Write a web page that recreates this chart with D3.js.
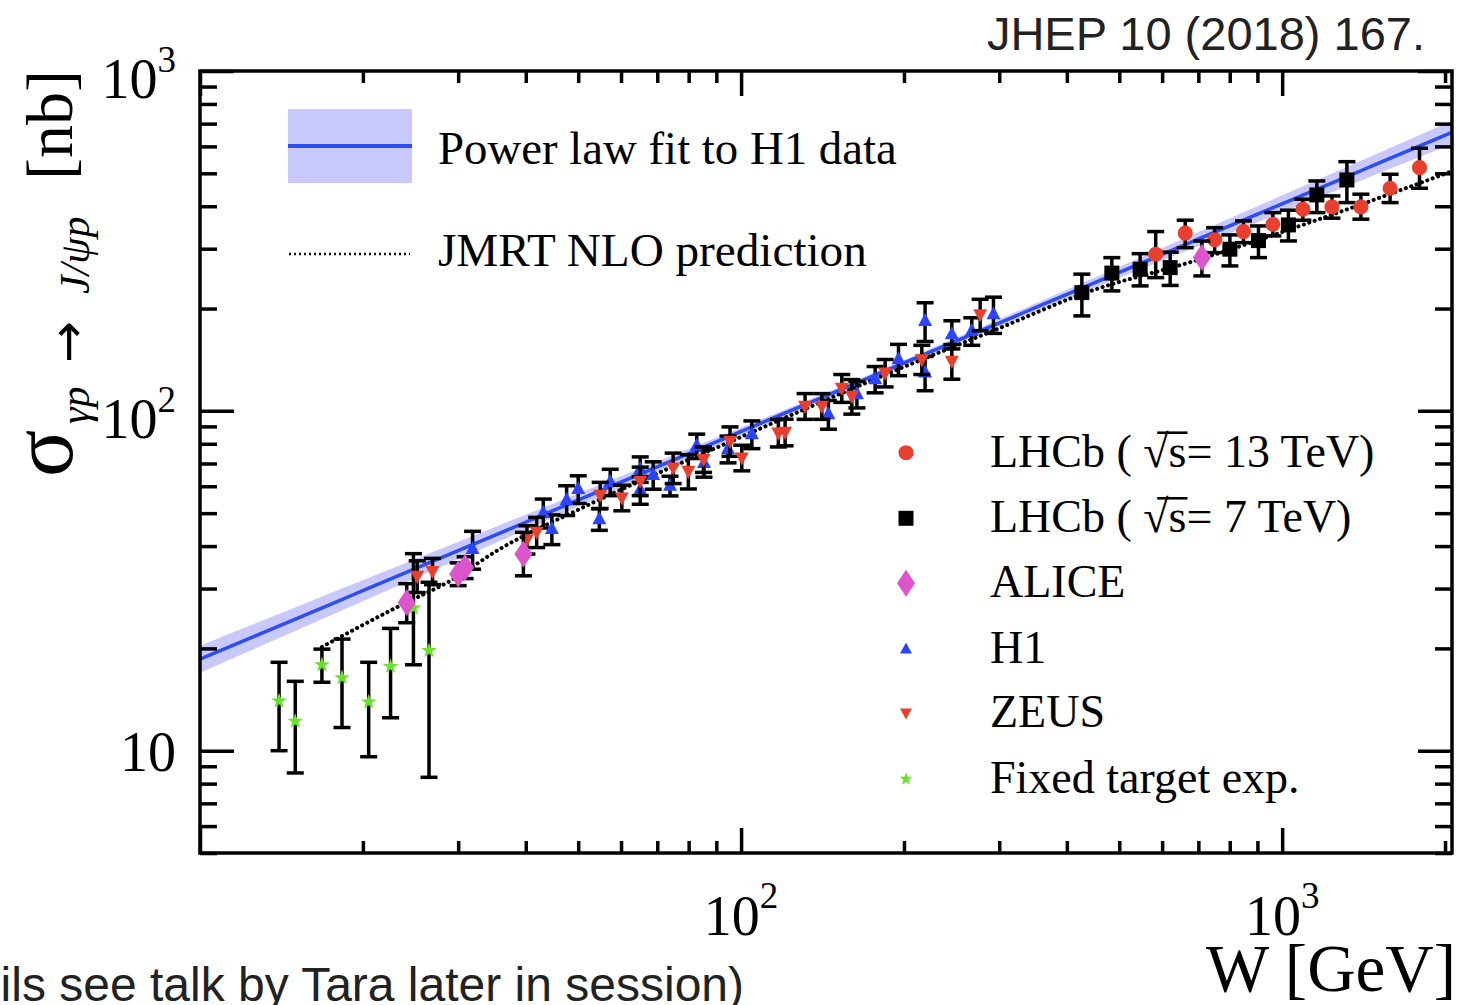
<!DOCTYPE html>
<html>
<head>
<meta charset="utf-8">
<script src="https://cdn.jsdelivr.net/npm/d3@7"></script>
<style>
  html, body { margin: 0; padding: 0; background: #fff; }
  svg { display: block; }
</style>
</head>
<body>
<svg id="chart" width="1458" height="1005"></svg>
<script>
// ---- J/psi photoproduction cross section vs W ----

// LHCb, sqrt(s) = 13 TeV
const lhcb13W     = [583.8, 661.9, 750.3, 848.3, 961.2, 1092, 1236, 1398, 1583, 1794];
const lhcb13Sigma = [289.0, 333.4, 318.8, 336.9, 354.0, 392.0, 398.1, 398.1, 451.9, 519.6];
const lhcb13ErrUp = [47.9, 30.5, 27.1, 25.3, 29.1, 27.5, 30.9, 35.9, 44.9, 72.9];
const lhcb13ErrDn = [42.4, 31.3, 26.7, 24.3, 26.8, 28.1, 29.2, 31.7, 41.9, 67.7];

// LHCb, sqrt(s) = 7 TeV
const lhcb7W     = [426.4, 484.4, 546.4, 620.9, 800.5, 904.0, 1027, 1159, 1317];
const lhcb7Sigma = [222.8, 254.3, 261.1, 263.9, 299.0, 316.9, 352.4, 431.8, 478.0];
const lhcb7ErrUp = [29.7, 28.1, 29.0, 29.1, 30.4, 33.1, 37.0, 43.0, 63.0];
const lhcb7ErrDn = [32.5, 28.9, 27.9, 30.0, 32.0, 34.5, 36.2, 48.7, 68.0];

// ALICE
const aliceW     = [24.1, 30.0, 30.9, 39.6, 710.6];
const aliceSigma = [27.3, 33.1, 34.6, 37.9, 282.4];
const aliceErrUp = [3.7, 2.6, 2.6, 6.0, 33.6];
const aliceErrDn = [3.5, 2.5, 2.5, 5.2, 32.9];

// H1
const h1W     = [31.9, 43.1, 44.7, 47.6, 50.0, 54.7, 57.3, 65.1, 65.1, 68.8, 73.9, 82.8,
                 85.4, 94.6, 104.7, 145.0, 163.7, 176.9, 195.4, 218.8, 218.8, 245.2, 266.9, 292.7];
const h1Sigma = [39.2, 50.1, 44.9, 54.7, 58.9, 48.0, 61.8, 67.4, 58.6, 64.8, 60.2, 78.9,
                 70.3, 77.3, 85.4, 97.8, 112.0, 124.0, 141.9, 184.0, 129.6, 168.1, 171.9, 192.5];
const h1Err   = [5.0, 4.9, 4.5, 5.5, 5.5, 3.5, 5.5, 5.8, 5.5, 6.0, 4.0, 6.5,
                 6.5, 7.0, 8.0, 9.5, 10.0, 11.0, 15.0, 24.0, 15.0, 16.0, 16.0, 23.5];

// ZEUS
const zeusW     = [25.2, 26.9, 40.2, 41.9, 54.9, 60.2, 65.1, 74.9, 79.9, 85.2, 95.4,
                   100.3, 117.2, 120.6, 131.3, 141.0, 153.5, 160.2, 184.6, 215.8, 245.2, 276.6];
const zeusSigma = [32.7, 33.8, 41.9, 44.1, 56.6, 55.6, 62.3, 68.1, 66.6, 72.1, 81.6,
                   72.9, 86.3, 86.7, 103.4, 103.4, 116.9, 110.7, 129.6, 141.9, 140.3, 192.5];
const zeusErr   = [3.5, 3.0, 4.0, 4.5, 5.0, 4.8, 6.0, 7.0, 7.7, 6.2, 8.1,
                   6.3, 8.0, 7.8, 9.0, 9.0, 11.0, 12.9, 12.0, 14.0, 16.4, 20.4];

// Fixed target experiments
const fixedW     = [14.0, 15.0, 16.8, 18.3, 20.5, 22.5, 24.8, 26.5];
const fixedSigma = [14.0, 12.2, 17.9, 16.4, 13.9, 17.7, 26.3, 19.7];
const fixedErrUp = [4.2, 3.8, 2.0, 4.9, 4.3, 5.2, 11.7, 11.6];
const fixedErrDn = [4.0, 3.6, 2.0, 4.7, 4.3, 5.2, 8.4, 11.35];

// JMRT NLO prediction
const jmrtW     = [16.8, 23.4, 29.0, 35.9, 50.4, 100, 200, 301, 426, 705, 1243, 2060];
const jmrtSigma = [20.2, 26.7, 31.6, 39.3, 51.5, 83.8, 134.7, 175.4, 220.4, 279.4, 378.9, 507];

// Power law fit to H1 data: sigma = N (W / W0)^delta, with its uncertainty band
const fitNorm = 81, fitIndex = 0.67, fitW0 = 90;
const fitBandConst = 0.02, fitBandSlope = 0.031, fitBandPivot = 180;

// Axis tick labels
const xLabelExps = [2, 3];
const yLabelExps = [1, 2, 3];

// Legend entries
const legendLabels = ["LHCb ( \u221As= 13 TeV)", "LHCb ( \u221As= 7 TeV)", "ALICE", "H1", "ZEUS", "Fixed target exp."];

// ---- layout ----
const svg = d3.select("#chart");
const SERIF = "'Liberation Serif', 'Times New Roman', serif";
const SANS = "'Liberation Sans', Arial, sans-serif";
const frame = { left: 200, right: 1452, top: 71, bottom: 853 };

const x = d3.scaleLog().domain([10, 2060]).range([frame.left, frame.right]);
const y = d3.scaleLog().domain([5, 1000]).range([frame.bottom, frame.top]);

const COL = {
  red: "#e8402f", blue: "#2a44ff", magenta: "#dd55cc", green: "#6ae02a",
  band: "#c8c8fb", fit: "#2e4df2"
};

// marker shapes
const triUp = { draw(ctx, size) { const h = Math.sqrt(size);
  ctx.moveTo(0, -h * 1.15); ctx.lineTo(h, h * 0.72); ctx.lineTo(-h, h * 0.72); ctx.closePath(); } };
const triDown = { draw(ctx, size) { const h = Math.sqrt(size);
  ctx.moveTo(0, h * 1.15); ctx.lineTo(h, -h * 0.72); ctx.lineTo(-h, -h * 0.72); ctx.closePath(); } };
const diamond = { draw(ctx, size) { const h = Math.sqrt(size);
  ctx.moveTo(0, -1.5 * h); ctx.lineTo(h, 0); ctx.lineTo(0, 1.5 * h); ctx.lineTo(-h, 0); ctx.closePath(); } };

const sym = {
  circle: d3.symbol().type(d3.symbolCircle).size(180),
  square: d3.symbol().type(d3.symbolSquare).size(225),
  diamond: d3.symbol().type(diamond).size(81),
  up: d3.symbol().type(triUp).size(49),
  down: d3.symbol().type(triDown).size(49),
  star: d3.symbol().type(d3.symbolStar).size(75)
};

// clip to the frame
svg.append("defs").append("clipPath").attr("id", "plotclip")
  .append("rect").attr("x", frame.left).attr("y", frame.top)
  .attr("width", frame.right - frame.left).attr("height", frame.bottom - frame.top);

const plot = svg.append("g").attr("clip-path", "url(#plotclip)");

// fit curve and band
const fitGrid = d3.range(0, 101).map(i => Math.pow(10, Math.log10(10) + i / 100 * (Math.log10(2060) - Math.log10(10))));
const fitVal = w => fitNorm * Math.pow(w / fitW0, fitIndex);
const fitRel = w => Math.sqrt(fitBandConst ** 2 + (fitBandSlope * Math.log(w / fitBandPivot)) ** 2);

plot.append("path")
  .datum(fitGrid)
  .attr("fill", COL.band)
  .attr("d", d3.area()
    .x(w => x(w))
    .y0(w => y(fitVal(w) * Math.exp(-fitRel(w))))
    .y1(w => y(fitVal(w) * Math.exp(fitRel(w)))));

plot.append("path")
  .datum(fitGrid)
  .attr("fill", "none").attr("stroke", COL.fit).attr("stroke-width", 3.5)
  .attr("d", d3.line().x(w => x(w)).y(w => y(fitVal(w))));

// JMRT NLO curve
plot.append("path")
  .datum(d3.range(jmrtW.length))
  .attr("fill", "none").attr("stroke", "#000").attr("stroke-width", 4)
  .attr("stroke-linecap", "round").attr("stroke-dasharray", "0.1 5.6")
  .attr("d", d3.line().curve(d3.curveMonotoneX)
    .x(i => x(jmrtW[i])).y(i => y(jmrtSigma[i])));

// data series: error bars then markers
function drawSeries(W, S, up, dn, shape, color) {
  const g = plot.append("g");
  const idx = d3.range(W.length);
  const cap = 8.5;
  g.selectAll("line.bar").data(idx).join("line")
    .attr("x1", i => x(W[i])).attr("x2", i => x(W[i]))
    .attr("y1", i => y(S[i] + up[i])).attr("y2", i => y(S[i] - dn[i]))
    .attr("stroke", "#000").attr("stroke-width", 3.5);
  g.selectAll("line.capt").data(idx).join("line")
    .attr("x1", i => x(W[i]) - cap).attr("x2", i => x(W[i]) + cap)
    .attr("y1", i => y(S[i] + up[i])).attr("y2", i => y(S[i] + up[i]))
    .attr("stroke", "#000").attr("stroke-width", 3.5);
  g.selectAll("line.capb").data(idx).join("line")
    .attr("x1", i => x(W[i]) - cap).attr("x2", i => x(W[i]) + cap)
    .attr("y1", i => y(S[i] - dn[i])).attr("y2", i => y(S[i] - dn[i]))
    .attr("stroke", "#000").attr("stroke-width", 3.5);
  g.selectAll("path.m").data(idx).join("path")
    .attr("transform", i => `translate(${x(W[i])},${y(S[i])})`)
    .attr("d", shape).attr("fill", color);
}

drawSeries(fixedW, fixedSigma, fixedErrUp, fixedErrDn, sym.star, COL.green);
drawSeries(h1W, h1Sigma, h1Err, h1Err, sym.up, COL.blue);
drawSeries(zeusW, zeusSigma, zeusErr, zeusErr, sym.down, COL.red);
drawSeries(lhcb7W, lhcb7Sigma, lhcb7ErrUp, lhcb7ErrDn, sym.square, "#000");
drawSeries(lhcb13W, lhcb13Sigma, lhcb13ErrUp, lhcb13ErrDn, sym.circle, COL.red);
drawSeries(aliceW, aliceSigma, aliceErrUp, aliceErrDn, sym.diamond, COL.magenta);

// ---- axes (ticks on all four sides, pointing inward) ----
const isMajor = d => Math.abs(Math.log10(d) - Math.round(Math.log10(d))) < 1e-9;
const xTicks = x.ticks();
const yTicks = y.ticks();

function tickAxis(gen, transform, ticks, attr, minorLen, majorLen, sign) {
  const g = svg.append("g").attr("transform", transform)
    .call(gen.tickValues(ticks).tickSizeOuter(0).tickFormat(""));
  g.select(".domain").remove();
  g.selectAll(".tick line")
    .attr(attr, d => sign * (isMajor(d) ? majorLen : minorLen))
    .attr("stroke", "#000").attr("stroke-width", 3.5);
}
tickAxis(d3.axisBottom(x), `translate(0,${frame.bottom})`, xTicks, "y2", 12, 25, -1);
tickAxis(d3.axisTop(x), `translate(0,${frame.top})`, xTicks, "y2", 12, 25, 1);
tickAxis(d3.axisLeft(y), `translate(${frame.left},0)`, yTicks, "x2", 17, 34, 1);
tickAxis(d3.axisRight(y), `translate(${frame.right},0)`, yTicks, "x2", 17, 34, -1);

// frame
svg.append("rect")
  .attr("x", frame.left).attr("y", frame.top)
  .attr("width", frame.right - frame.left).attr("height", frame.bottom - frame.top)
  .attr("fill", "none").attr("stroke", "#000").attr("stroke-width", 3.5);

// tick labels
xLabelExps.forEach(e => {
  const t = svg.append("text")
    .attr("x", x(Math.pow(10, e))).attr("y", 935)
    .attr("text-anchor", "middle").attr("font-family", SERIF).attr("font-size", 56).attr("fill", "#000");
  t.append("tspan").text("10");
  t.append("tspan").attr("dy", -27).attr("font-size", 37).text(e);
});
yLabelExps.forEach(e => {
  const py = y(Math.pow(10, e));
  const t = svg.append("text")
    .attr("x", 176).attr("text-anchor", "end")
    .attr("font-family", SERIF).attr("font-size", 56).attr("fill", "#000");
  if (e === 1) {
    t.attr("y", py + 20).text("10");
  } else {
    t.attr("y", py + 27);
    t.append("tspan").text("10");
    t.append("tspan").attr("dy", -26).attr("font-size", 37).text(e);
  }
});

// axis titles
svg.append("text")
  .attr("x", 1456).attr("y", 991).attr("text-anchor", "end")
  .attr("font-family", SERIF).attr("font-size", 67).attr("fill", "#000")
  .text("W [GeV]");

const yt = svg.append("g").attr("transform", "rotate(-90)")
  .attr("font-family", SERIF).attr("fill", "#000");
yt.append("text").attr("x", -477).attr("y", 72).attr("font-size", 88).text("\u03C3");
yt.append("text").attr("x", -424).attr("y", 89).attr("font-size", 42).attr("font-style", "italic").text("\u03B3p");
yt.append("text").attr("x", -363).attr("y", 85).attr("font-size", 50)
  .attr("font-family", "'DejaVu Sans', sans-serif").text("\u2192");
yt.append("text").attr("x", -294).attr("y", 89).attr("font-size", 42).attr("font-style", "italic").text("J/\u03C8p");
yt.append("text").attr("x", -180).attr("y", 72).attr("font-size", 66).text("[nb]");

// ---- legends ----
// fit + prediction legend
svg.append("rect").attr("x", 288).attr("y", 109).attr("width", 124).attr("height", 74).attr("fill", COL.band);
svg.append("line").attr("x1", 288).attr("x2", 412).attr("y1", 146).attr("y2", 146)
  .attr("stroke", COL.fit).attr("stroke-width", 4);
svg.append("text").attr("x", 438).attr("y", 164)
  .attr("font-family", SERIF).attr("font-size", 46.8).attr("fill", "#000")
  .text("Power law fit to H1 data");
svg.append("line").attr("x1", 289).attr("x2", 410).attr("y1", 254).attr("y2", 254)
  .attr("stroke", "#111").attr("stroke-width", 2.5).attr("stroke-dasharray", "2 3");
svg.append("text").attr("x", 438).attr("y", 266)
  .attr("font-family", SERIF).attr("font-size", 47.2).attr("fill", "#000")
  .text("JMRT NLO prediction");

// data legend
const legShapes = [sym.circle, sym.square, sym.diamond, d3.symbol().type(triUp).size(36), d3.symbol().type(triDown).size(36), d3.symbol().type(d3.symbolStar).size(55)];
const legColors = [COL.red, "#000", COL.magenta, COL.blue, COL.red, COL.green];
const legRowY = [452.7, 518.3, 583.3, 649.3, 712.7, 779];
const leg = svg.append("g");
legendLabels.forEach((lab, i) => {
  const base = legRowY[i] + 14;
  leg.append("path").attr("transform", `translate(906,${legRowY[i]})`)
    .attr("d", legShapes[i]).attr("fill", legColors[i]);
  const t = leg.append("text").attr("x", 990).attr("y", base)
    .attr("font-family", SERIF).attr("font-size", 46).attr("fill", "#000")
    .text(lab);
  // vinculum of the square root, spanning the radical's top over "s"
  const k = lab.indexOf("\u221A");
  if (k >= 0) {
    const node = t.node();
    const r = node.getExtentOfChar(k);
    const s = node.getExtentOfChar(k + 1);
    leg.append("line")
      .attr("x1", r.x + r.width * 0.55).attr("x2", s.x + s.width + 1)
      .attr("y1", base - 34).attr("y2", base - 34)
      .attr("stroke", "#000").attr("stroke-width", 2.6);
  }
});

// reference and note
svg.append("text").attr("x", 1425).attr("y", 50).attr("text-anchor", "end")
  .attr("font-family", SANS).attr("font-size", 47).attr("fill", "#222")
  .text("JHEP 10 (2018) 167.");
svg.append("text").attr("x", 744).attr("y", 1001).attr("text-anchor", "end")
  .attr("font-family", SANS).attr("font-size", 48).attr("fill", "#222")
  .text("ils see talk by Tara later in session)");
</script>
</body>
</html>
